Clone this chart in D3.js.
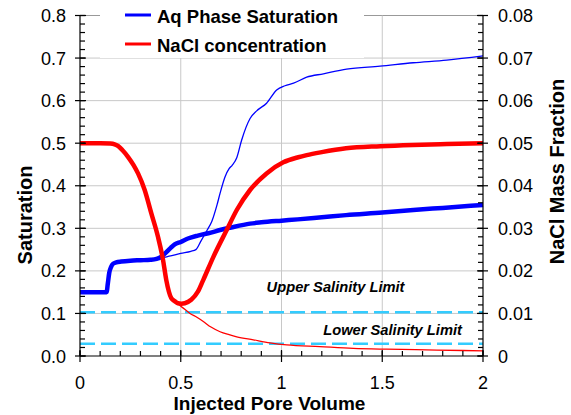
<!DOCTYPE html>
<html><head><meta charset="utf-8">
<script src="https://cdn.jsdelivr.net/npm/d3@7"></script>
<style>
html,body{margin:0;padding:0;background:#fff;}
text{font-family:"Liberation Sans",Arial,sans-serif;fill:#000;}
</style></head>
<body><svg id="c" width="571" height="415"></svg>
<script>
// ---- data ----
const satTicks = [0,0.1,0.2,0.3,0.4,0.5,0.6,0.7,0.8];
const fracTicks = [0,0.01,0.02,0.03,0.04,0.05,0.06,0.07,0.08];
const pvTicks = [0,0.5,1,1.5,2];

const thickBlueX = [0,0.132,0.138,0.145,0.155,0.165,0.18,0.205,0.25,0.3,0.35,0.38,0.40,0.42,0.45,0.47,0.5,0.536,0.585,0.65,0.695,0.75,0.844,0.9,1.0,1.08,1.2,1.32,1.5,1.654,1.8,2.0];
const thickBlueY = [0.15,0.15,0.17,0.195,0.21,0.217,0.22,0.222,0.224,0.225,0.226,0.228,0.232,0.24,0.254,0.262,0.268,0.276,0.283,0.29,0.296,0.302,0.311,0.314,0.318,0.321,0.326,0.331,0.337,0.343,0.348,0.355];

const thinBlueX = [0.38,0.42,0.45,0.5,0.55,0.575,0.6,0.63,0.654,0.68,0.695,0.72,0.74,0.755,0.778,0.802,0.844,0.877,0.926,0.976,1.017,1.06,1.125,1.208,1.323,1.489,1.654,1.82,2.0];
const thinBlueY = [0.228,0.232,0.235,0.241,0.246,0.25,0.27,0.295,0.316,0.355,0.382,0.421,0.44,0.448,0.466,0.507,0.558,0.576,0.594,0.625,0.635,0.641,0.655,0.663,0.674,0.681,0.689,0.695,0.705];

const thickRedX = [0,0.1,0.15,0.172,0.19,0.21,0.238,0.265,0.288,0.321,0.354,0.387,0.412,0.428,0.453,0.47,0.486,0.503,0.52,0.552,0.585,0.612,0.662,0.728,0.778,0.844,0.926,1.009,1.083,1.125,1.2,1.32,1.49,1.65,1.82,2.0];
const thickRedY = [0.05,0.05,0.0499,0.0497,0.0493,0.0484,0.0468,0.0449,0.0429,0.039,0.0335,0.028,0.0226,0.0179,0.0136,0.0129,0.0124,0.0123,0.0124,0.0132,0.0151,0.0179,0.0233,0.0296,0.0343,0.039,0.0429,0.0455,0.0467,0.0472,0.0479,0.0488,0.0493,0.0496,0.0498,0.05];

const thinRedX = [0.47,0.486,0.52,0.546,0.58,0.612,0.65,0.695,0.74,0.778,0.86,0.943,1.026,1.19,1.356,1.52,1.77,2.0];
const thinRedY = [0.0129,0.0122,0.011,0.0100,0.0091,0.0081,0.0068,0.0057,0.005,0.0045,0.0038,0.0031,0.0026,0.0022,0.0018,0.0016,0.0014,0.0012];

const salinityLimits = [0.0103,0.0029];
const limitLabels = ["Upper Salinity Limit","Lower Salinity Limit"];
const limitLabelPos = [[0.926,0.0150],[1.207,0.0049]];
const legendLabels = ["Aq Phase Saturation","NaCl concentration"];

// ---- layout ----
const L=80,R=483,T=15.5,B=356;
const svg=d3.select("#c");
const x=d3.scaleLinear().domain([0,2]).range([L,R]);
const yS=d3.scaleLinear().domain([0,0.8]).range([B,T]);
const yF=d3.scaleLinear().domain([0,0.08]).range([B,T]);

// gridlines
const g=svg.append("g");
g.selectAll(".hg").data(satTicks.slice(1)).join("line")
 .attr("x1",L).attr("x2",R).attr("y1",d=>yS(d)).attr("y2",d=>yS(d))
 .attr("stroke",d=>d===0.8?"#999":"#c8c8c8").attr("stroke-width",1);
g.selectAll(".vg").data(pvTicks.slice(1,-1)).join("line")
 .attr("y1",T).attr("y2",B).attr("x1",d=>x(d)).attr("x2",d=>x(d))
 .attr("stroke","#c8c8c8").attr("stroke-width",1);

// legend background
svg.append("rect").attr("x",100).attr("y",0).attr("width",264).attr("height",58).attr("fill","#fff");

// dashed limits
svg.selectAll(".lim").data(salinityLimits).join("line")
 .attr("x1",L).attr("x2",R).attr("y1",d=>yF(d)).attr("y2",d=>yF(d))
 .attr("stroke","#33ccff").attr("stroke-width",2.5).attr("stroke-dasharray","15,6");

svg.selectAll(".liml").data(limitLabels).join("text")
 .attr("x",(d,i)=>x(limitLabelPos[i][0])).attr("y",(d,i)=>yF(limitLabelPos[i][1]))
 .attr("font-size",14.7).attr("font-weight","bold").attr("font-style","italic")
 .text(d=>d);

// curves
const line=(xs,ys,ysc)=>d3.line().curve(d3.curveMonotoneX).x((d,i)=>x(xs[i])).y((d,i)=>ysc(ys[i]))(xs);
svg.append("path").attr("d",line(thinRedX,thinRedY,yF)).attr("fill","none").attr("stroke","#ff0000").attr("stroke-width",1.3);
svg.append("path").attr("d",line(thinBlueX,thinBlueY,yS)).attr("fill","none").attr("stroke","#0000ff").attr("stroke-width",1.3);
svg.append("path").attr("d",line(thickBlueX,thickBlueY,yS)).attr("fill","none").attr("stroke","#0000ff").attr("stroke-width",4.5);
svg.append("path").attr("d",line(thickRedX,thickRedY,yF)).attr("fill","none").attr("stroke","#ff0000").attr("stroke-width",4.5);

// axes
const ax=svg.append("g").attr("stroke","#000").attr("stroke-width",1.2);
ax.append("line").attr("x1",L).attr("x2",L).attr("y1",T).attr("y2",B);
ax.append("line").attr("x1",R).attr("x2",R).attr("y1",T).attr("y2",B);
ax.append("line").attr("x1",L).attr("x2",R).attr("y1",B).attr("y2",B);
const minorS=d3.range(0,41).map(i=>i*0.02);
ax.selectAll(".lm").data(minorS).join("line").attr("x1",L).attr("x2",L+5).attr("y1",d=>yS(d)).attr("y2",d=>yS(d));
ax.selectAll(".rm").data(minorS).join("line").attr("x1",R-5).attr("x2",R).attr("y1",d=>yS(d)).attr("y2",d=>yS(d));
ax.selectAll(".lM").data(satTicks).join("line").attr("x1",L-5).attr("x2",L+6).attr("y1",d=>yS(d)).attr("y2",d=>yS(d));
ax.selectAll(".rM").data(fracTicks).join("line").attr("x1",R-6).attr("x2",R+5).attr("y1",d=>yF(d)).attr("y2",d=>yF(d));
const minorX=d3.range(0,21).map(i=>i*0.1);
ax.selectAll(".xm").data(minorX).join("line").attr("x1",d=>x(d)).attr("x2",d=>x(d)).attr("y1",B-5).attr("y2",B);
ax.selectAll(".xM").data(pvTicks).join("line").attr("x1",d=>x(d)).attr("x2",d=>x(d)).attr("y1",B-6).attr("y2",B+6);

// tick labels
svg.selectAll(".lt").data(satTicks).join("text").attr("x",66).attr("y",d=>yS(d)+6.5)
 .attr("text-anchor","end").attr("font-size",18).text(d=>d3.format(".1f")(d));
svg.selectAll(".rt").data(fracTicks).join("text").attr("x",498).attr("y",d=>yF(d)+6.5)
 .attr("font-size",18).text(d=>d===0?"0":d3.format(".2f")(d));
svg.selectAll(".xt").data(pvTicks).join("text").attr("x",d=>x(d)).attr("y",388.5)
 .attr("text-anchor","middle").attr("font-size",18).text(d=>String(d));

// axis titles
svg.append("text").attr("x",269.5).attr("y",409.5).attr("text-anchor","middle").attr("font-size",19).attr("font-weight","bold").text("Injected Pore Volume");
svg.append("text").attr("transform","translate(32,215) rotate(-90)").attr("text-anchor","middle").attr("font-size",20).attr("font-weight","bold").text("Saturation");
svg.append("text").attr("transform","translate(564,171.5) rotate(-90)").attr("text-anchor","middle").attr("font-size",20).attr("font-weight","bold").text("NaCl Mass Fraction");

// legend
const legColors=["#0000ff","#ff0000"];
const legY=[15,44];
svg.selectAll(".ll").data(legendLabels).join("line").attr("x1",125).attr("x2",151)
 .attr("y1",(d,i)=>legY[i]).attr("y2",(d,i)=>legY[i]).attr("stroke",(d,i)=>legColors[i]).attr("stroke-width",3);
svg.selectAll(".lx").data(legendLabels).join("text").attr("x",157).attr("y",(d,i)=>legY[i]+7.5)
 .attr("font-size",18.5).attr("font-weight","bold").text(d=>d);
</script></body></html>
